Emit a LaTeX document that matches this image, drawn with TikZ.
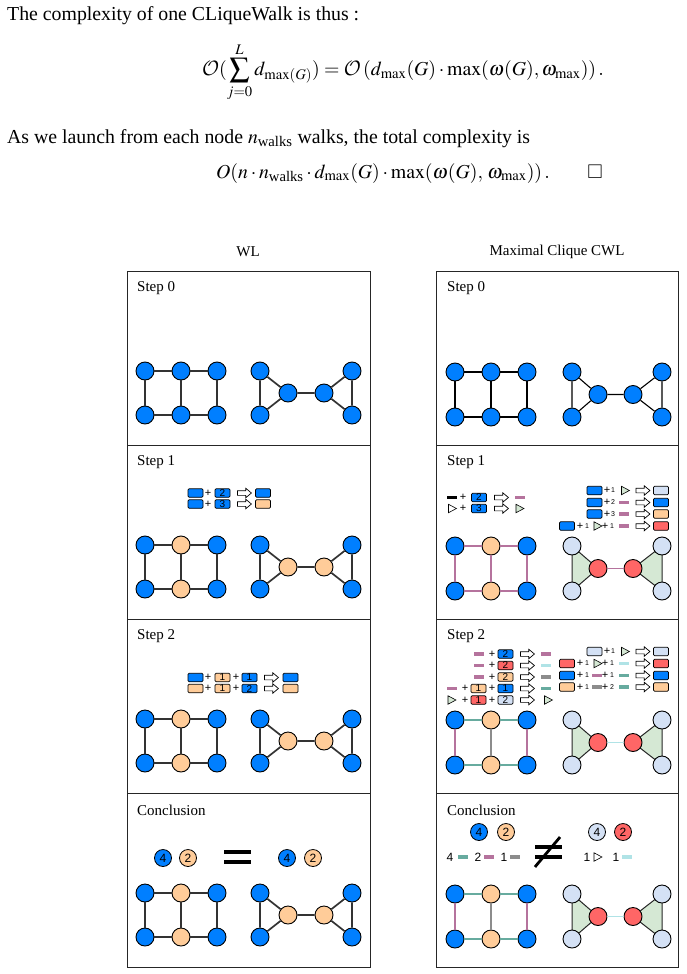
\documentclass[tikz,border=0pt]{standalone}
\usepackage{amsmath,amssymb}
\usepackage{mathptmx}
\DeclareMathAlphabet{\mathcal}{OMS}{cmsy}{m}{n}
\usepackage{fontspec}
\setmainfont{Liberation Serif}
\setsansfont{Liberation Sans}
\usepackage{xcolor}
\usepackage{tikz}
\usetikzlibrary{positioning,shapes.geometric,shapes.arrows,backgrounds}
\definecolor{nblue}{HTML}{007FFF}
\definecolor{norange}{HTML}{FFCC99}
\definecolor{nlight}{HTML}{D4E1F5}
\definecolor{nred}{HTML}{FF6666}
\definecolor{epink}{HTML}{B5739D}
\definecolor{eteal}{HTML}{67AB9F}
\definecolor{egray}{HTML}{8C8C8C}
\definecolor{ecyan}{HTML}{B0E3E6}
\definecolor{cgreen}{HTML}{D5E8D4}

\begin{document}
\begin{tikzpicture}[
  x=1pt, y=-1pt,
  txt/.style={inner sep=0pt,font=\fontsize{19.8}{24}\selectfont},
  ttl/.style={inner sep=0pt,font=\fontsize{15}{18}\selectfont},
  stp/.style={ttl,anchor=west},
  panel/.style={draw=black!85,line width=0.9pt},
  gn/.style={circle,draw=black,line width=0.9pt,minimum size=18pt,inner sep=0pt},
  ledge/.style={draw=black!80,line width=1.7pt},
  kedge/.style={draw=black,line width=1.1pt},
  cedge/.style={line width=1.5pt},
  clique/.style={fill=cgreen,draw=black!85,line width=1pt,line join=round},
  lbox/.style={rectangle,draw=black,rounded corners=1.2pt,line width=0.7pt,minimum width=15pt,minimum height=8.5pt,inner sep=0pt,font=\sffamily\fontsize{10}{10}\selectfont},
  bxB/.style={lbox,fill=nblue}, bxO/.style={lbox,fill=norange},
  bxL/.style={lbox,fill=nlight}, bxR/.style={lbox,fill=nred},
  pl/.style={inner sep=0pt,font=\sffamily\fontsize{11}{11}\selectfont},
  nm/.style={inner sep=0pt,font=\sffamily\fontsize{7}{7}\selectfont},
  dg/.style={inner sep=0pt,font=\sffamily\fontsize{12}{12}\selectfont},
  arw/.style={single arrow,draw=black,fill=white,line width=0.7pt,minimum height=14pt,inner xsep=0pt,inner ysep=2pt,single arrow head extend=2.4pt,single arrow tip angle=80},
  lbar/.style={rectangle,inner sep=0pt,minimum width=10pt,minimum height=3.8pt},
  barK/.style={lbar,fill=black}, barP/.style={lbar,fill=epink}, barT/.style={lbar,fill=eteal},
  barG/.style={lbar,fill=egray}, barC/.style={lbar,fill=ecyan},
  tri/.style={isosceles triangle,isosceles triangle stretches,draw=black,line width=0.6pt,inner sep=0pt,minimum width=8.5pt,minimum height=8pt},
  triW/.style={tri,fill=white}, triG/.style={tri,fill=cgreen},
  cn/.style={circle,draw=black,line width=0.8pt,minimum size=17pt,inner sep=0pt,font=\sffamily\fontsize{12}{12}\selectfont},
  ebar/.style={rectangle,fill=black,inner sep=0pt,minimum width=27pt,minimum height=3.5pt}
]
\useasboundingbox (0,0) rectangle (686,974);

% --- text above the figure ---
\node[txt,anchor=base west] (line1) at (7,21) {The complexity of one CLiqueWalk is thus :};
\node[txt] (eq1) at (403,72) {$\displaystyle \mathcal{O}(\sum_{j=0}^{L} d_{\max(G)}) = \mathcal{O}\left(d_{\max}(G)\cdot\max(\omega(G),\omega_{\max})\right).$};
\node[txt,anchor=base west] (line2) at (7,143) {As we launch from each node $n_{\text{walks}}$ walks, the total complexity is};
\node[txt,anchor=base] (eq2) at (383,178) {$O(n\cdot n_{\text{walks}}\cdot d_{\max}(G)\cdot\max(\omega(G),\,\omega_{\max}))\,.$};
\node[txt] (qed) at (595,172) {$\square$};

% --- panels ---
\node[ttl] (twl) at (248,252) {WL};
\node[ttl] (tcwl) at (557,252) {Maximal Clique CWL};
\foreach \yy/\lab [count=\i] in {271/Step 0,445/Step 1,619/Step 2,793/Conclusion} {
  \draw[panel] (127,\yy) rectangle (370,\yy+174);
  \draw[panel] (436,\yy) rectangle (678,\yy+174);
  \node[stp] (sl\i) at (137,\yy+17) {\lab};
  \node[stp] (sr\i) at (447,\yy+17) {\lab};
}

% --- WL graphs ---
\foreach \ro/\yy/\cmid in {0/271/nblue,1/445/norange,2/619/norange,3/793/norange} {
  \node[gn,fill=nblue] (l\ro-s1) at (145,\yy+100) {};
  \node[gn,fill=\cmid] (l\ro-s2) at (181,\yy+100) {};
  \node[gn,fill=nblue] (l\ro-s3) at (217,\yy+100) {};
  \node[gn,fill=nblue] (l\ro-s4) at (145,\yy+144) {};
  \node[gn,fill=\cmid] (l\ro-s5) at (181,\yy+144) {};
  \node[gn,fill=nblue] (l\ro-s6) at (217,\yy+144) {};
  \node[gn,fill=nblue] (l\ro-b1) at (260,\yy+100) {};
  \node[gn,fill=nblue] (l\ro-b2) at (260,\yy+144) {};
  \node[gn,fill=\cmid] (l\ro-b3) at (288,\yy+122) {};
  \node[gn,fill=\cmid] (l\ro-b4) at (324,\yy+122) {};
  \node[gn,fill=nblue] (l\ro-b5) at (352,\yy+100) {};
  \node[gn,fill=nblue] (l\ro-b6) at (352,\yy+144) {};
  \draw[ledge] (l\ro-s1) -- (l\ro-s2) -- (l\ro-s3) -- (l\ro-s6) -- (l\ro-s5) -- (l\ro-s4) -- (l\ro-s1);
  \draw[ledge] (l\ro-s2) -- (l\ro-s5);
  \draw[ledge] (l\ro-b1) -- (l\ro-b2) -- (l\ro-b3) -- (l\ro-b1);
  \draw[ledge] (l\ro-b3) -- (l\ro-b4) -- (l\ro-b5) -- (l\ro-b6) -- (l\ro-b4);
}

% --- CWL graphs ---
\foreach \ro/\yy/\ch/\cv/\cmv/\cbm/\cs/\cc/\cd in {0/271/black/black/black/black/nblue/nblue/nblue,
    1/445/epink/epink/epink/epink/norange/nlight/nred,
    2/619/eteal/epink/egray/ecyan/norange/nlight/nred,
    3/793/eteal/epink/egray/ecyan/norange/nlight/nred} {
  \node[gn,fill=nblue] (r\ro-s1) at (455,\yy+101) {};
  \node[gn,fill=\cs] (r\ro-s2) at (491,\yy+101) {};
  \node[gn,fill=nblue] (r\ro-s3) at (527,\yy+101) {};
  \node[gn,fill=nblue] (r\ro-s4) at (455,\yy+146) {};
  \node[gn,fill=\cs] (r\ro-s5) at (491,\yy+146) {};
  \node[gn,fill=nblue] (r\ro-s6) at (527,\yy+146) {};
  \node[gn,fill=\cc] (r\ro-b1) at (572,\yy+101) {};
  \node[gn,fill=\cc] (r\ro-b2) at (572,\yy+146) {};
  \node[gn,fill=\cd] (r\ro-b3) at (598,\yy+123.5) {};
  \node[gn,fill=\cd] (r\ro-b4) at (633,\yy+123.5) {};
  \node[gn,fill=\cc] (r\ro-b5) at (662,\yy+101) {};
  \node[gn,fill=\cc] (r\ro-b6) at (662,\yy+146) {};
  \ifnum\ro=0
    \draw[kedge] (r\ro-s1) -- (r\ro-s2) -- (r\ro-s3) -- (r\ro-s6) -- (r\ro-s5) -- (r\ro-s4) -- (r\ro-s1);
    \draw[kedge] (r\ro-s2) -- (r\ro-s5);
    \draw[kedge] (r\ro-b1) -- (r\ro-b2) -- (r\ro-b3) -- (r\ro-b1);
    \draw[kedge] (r\ro-b3) -- (r\ro-b4) -- (r\ro-b5) -- (r\ro-b6) -- (r\ro-b4);
  \else
    \begin{scope}[on background layer]
      \filldraw[clique] (r\ro-b1.center) -- (r\ro-b2.center) -- (r\ro-b3.center) -- cycle;
      \filldraw[clique] (r\ro-b5.center) -- (r\ro-b6.center) -- (r\ro-b4.center) -- cycle;
    \end{scope}
    \draw[cedge,draw=\ch] (r\ro-s1) -- (r\ro-s2) -- (r\ro-s3);
    \draw[cedge,draw=\ch] (r\ro-s4) -- (r\ro-s5) -- (r\ro-s6);
    \draw[cedge,draw=\cv] (r\ro-s1) -- (r\ro-s4);
    \draw[cedge,draw=\cv] (r\ro-s3) -- (r\ro-s6);
    \draw[cedge,draw=\cmv] (r\ro-s2) -- (r\ro-s5);
    \draw[cedge,draw=\cbm] (r\ro-b3) -- (r\ro-b4);
  \fi
}

% --- WL rules ---
\foreach \x/\st/\tx [count=\i] in {195.5/bxB/{},208/pl/+,222.5/bxB/2,243/arw/{},263/bxB/{}}
  \node[\st] (wa\i) at (\x,493) {\tx};
\foreach \x/\st/\tx [count=\i] in {195.5/bxB/{},208/pl/+,222.5/bxB/3,243/arw/{},263/bxO/{}}
  \node[\st] (wb\i) at (\x,504) {\tx};
\foreach \x/\st/\tx [count=\i] in {195.5/bxB/{},208/pl/+,222.5/bxO/1,236/pl/+,249.5/bxB/1,270/arw/{},290.5/bxB/{}}
  \node[\st] (wc\i) at (\x,677.5) {\tx};
\foreach \x/\st/\tx [count=\i] in {195.5/bxO/{},208/pl/+,222.5/bxO/1,236/pl/+,249.5/bxB/2,270/arw/{},290.5/bxO/{}}
  \node[\st] (wd\i) at (\x,688.5) {\tx};

% --- WL conclusion ---
\node[cn,fill=nblue] (wk1) at (163,858) {4};
\node[cn,fill=norange] (wk2) at (188,858) {2};
\node[ebar] (weq1) at (237.5,852) {};
\node[ebar] (weq2) at (237.5,862) {};
\node[cn,fill=nblue] (wk3) at (287,858) {4};
\node[cn,fill=norange] (wk4) at (313,858) {2};

% --- CWL rules, step 1 ---
\foreach \x/\st/\tx [count=\i] in {452/barK/{},463/pl/+,479/bxB/2,500/arw/{},520/barP/{}}
  \node[\st] (ca\i) at (\x,497.5) {\tx};
\foreach \x/\st/\tx [count=\i] in {451/triW/{},463/pl/+,479/bxB/3,500/arw/{},518.5/triG/{}}
  \node[\st] (cb\i) at (\x,508.5) {\tx};
\foreach \x/\st/\tx [count=\i] in {594.5/bxB/{},607/pl/+,613/nm/1,624/triG/{},641.5/arw/{},661/bxL/{}}
  \node[\st] (cc\i) at (\x,490.5) {\tx};
\foreach \x/\st/\tx [count=\i] in {594.5/bxB/{},607/pl/+,613/nm/2,624/barP/{},641.5/arw/{},661/bxB/{}}
  \node[\st] (cd\i) at (\x,502.5) {\tx};
\foreach \x/\st/\tx [count=\i] in {594.5/bxB/{},607/pl/+,613/nm/3,624/barP/{},641.5/arw/{},661/bxO/{}}
  \node[\st] (ce\i) at (\x,514) {\tx};
\foreach \x/\st/\tx [count=\i] in {567/bxB/{},580/pl/+,587/nm/1,596.5/triG/{},605/pl/+,612/nm/1,624/barP/{},641.5/arw/{},661/bxR/{}}
  \node[\st] (cf\i) at (\x,526) {\tx};

% --- CWL rules, step 2 ---
\foreach \x/\st/\tx [count=\i] in {479/barP/{},492/pl/+,505.5/bxB/2,526/arw/{},546/barP/{}}
  \node[\st] (cg\i) at (\x,654) {\tx};
\foreach \x/\st/\tx [count=\i] in {479/barP/{},492/pl/+,505.5/bxR/2,526/arw/{},546/barC/{}}
  \node[\st] (ch\i) at (\x,665.5) {\tx};
\foreach \x/\st/\tx [count=\i] in {479/barP/{},492/pl/+,505.5/bxO/2,526/arw/{},546/barG/{}}
  \node[\st] (ci\i) at (\x,677) {\tx};
\foreach \x/\st/\tx [count=\i] in {452/barP/{},465/pl/+,478.5/bxO/1,492/pl/+,505.5/bxB/1,526/arw/{},546/barT/{}}
  \node[\st] (cj\i) at (\x,688.5) {\tx};
\foreach \x/\st/\tx [count=\i] in {450.5/triG/{},465/pl/+,478.5/bxR/1,492/pl/+,505.5/bxL/2,526/arw/{},547/triG/{}}
  \node[\st] (ck\i) at (\x,700) {\tx};
\foreach \x/\st/\tx [count=\i] in {594.5/bxL/{},607/pl/+,613/nm/1,624/triG/{},641.5/arw/{},661/bxL/{}}
  \node[\st] (cl\i) at (\x,651.5) {\tx};
\foreach \x/\st/\tx [count=\i] in {567/bxR/{},580/pl/+,587/nm/1,596.5/triG/{},605/pl/+,612/nm/1,624/barC/{},641.5/arw/{},661/bxR/{}}
  \node[\st] (cm\i) at (\x,663.5) {\tx};
\foreach \x/\st/\tx [count=\i] in {567/bxB/{},580/pl/+,587/nm/1,596.5/barP/{},605/pl/+,612/nm/1,624/barT/{},641.5/arw/{},661/bxB/{}}
  \node[\st] (cn\i) at (\x,675.5) {\tx};
\foreach \x/\st/\tx [count=\i] in {567/bxO/{},580/pl/+,587/nm/1,596.5/barG/{},605/pl/+,612/nm/2,624/barT/{},641.5/arw/{},661/bxO/{}}
  \node[\st] (co\i) at (\x,687) {\tx};

% --- CWL conclusion ---
\node[cn,fill=nblue] (ck1x) at (479,832) {4};
\node[cn,fill=norange] (ck2x) at (506,832) {2};
\node[cn,fill=nlight] (ck3x) at (597,832) {4};
\node[cn,fill=nred] (ck4x) at (623,832) {2};
\foreach \x/\st/\tx [count=\i] in {450/dg/4,462.5/barT/{},478/dg/2,488.5/barP/{},504/dg/1,515/barG/{},587/dg/1,596.5/triW/{},616/dg/1,627/barC/{}}
  \node[\st] (cq\i) at (\x,857) {\tx};
\node[ebar] (cneq1) at (548.5,847) {};
\node[ebar] (cneq2) at (548.5,857) {};
\node[ebar,minimum width=39pt,minimum height=2.8pt,rotate=50] (cneq3) at (547.5,852) {};
\end{tikzpicture}
\end{document}
